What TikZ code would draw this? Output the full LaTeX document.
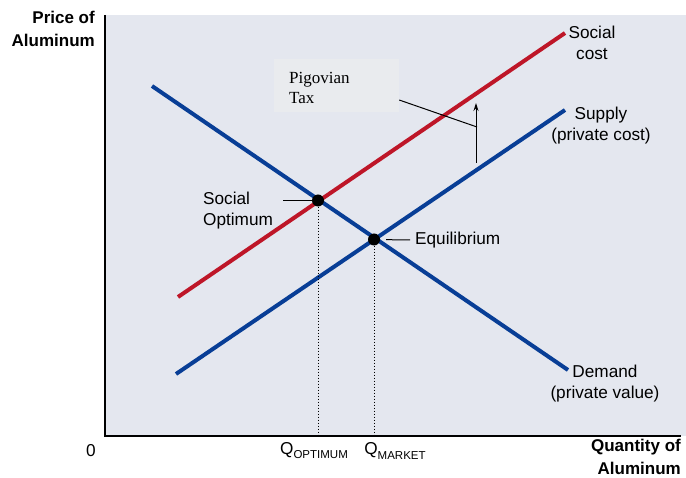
\documentclass[tikz,border=0pt]{standalone}
\usepackage{fontspec}
\setmainfont{Liberation Sans}
\newfontfamily\taxfont{Liberation Serif}
\usetikzlibrary{arrows.meta,positioning}

\definecolor{panelgrey}{RGB}{228,231,239}
\definecolor{boxgrey}{RGB}{233,235,238}
\definecolor{costred}{RGB}{190,22,40}
\definecolor{curveblue}{RGB}{8,62,150}

\newcommand{\qsub}[1]{Q\raisebox{-0.45ex}{\fontsize{11.5}{12}\selectfont #1}}

\begin{document}
\begin{tikzpicture}[
    x=1pt, y=-1pt,
    >={Stealth[length=8pt,width=5pt]},
    lbl/.style={
        font=\fontsize{17.2}{21}\selectfont,
        inner sep=0pt,
        align=center
    },
    axislbl/.style={
        font=\fontsize{17}{22.5}\selectfont\bfseries,
        inner sep=0pt,
        align=right
    },
    curve/.style={
        line width=4pt,
        draw=#1
    },
    dot/.style={
        circle,
        fill=black,
        minimum size=12pt,
        inner sep=0pt
    },
    leader/.style={
        line width=1pt
    }
]
\useasboundingbox (0,0) rectangle (686,478);

% Panel and axes
\fill[panelgrey] (106,15) rectangle (686,436);
\coordinate (origin) at (105,436);
\coordinate (ytop) at (105,15);
\coordinate (xend) at (681,436);
\draw[line width=1.4pt] (ytop) -- (origin) -- (xend);

% Curves
\coordinate (sc1) at (178,297);
\coordinate (sc2) at (565,33);
\coordinate (sup1) at (176,374);
\coordinate (sup2) at (565,110);
\coordinate (dem1) at (152,86);
\coordinate (dem2) at (568,370);
\draw[curve=costred] (sc1) -- (sc2);
\draw[curve=curveblue] (sup1) -- (sup2);
\draw[curve=curveblue] (dem1) -- (dem2);

% Points
\node[dot] (opt) at (318,200.5) {};
\node[dot] (eq) at (374,239.5) {};
\draw[dotted,line width=1pt] (opt) -- (opt |- origin);
\draw[dotted,line width=1pt] (eq) -- (eq |- origin);

% Curve labels
\node[lbl] (sclabel) at (592,43) {Social\\cost};
\node[lbl] (suplabel) at (601,126) {Supply\\(private cost)};
\node[lbl] (demlabel) at (605,384) {Demand\\(private value)};
\node[lbl,align=left,anchor=west] (optlabel) at (203,211) {Social\\Optimum};
\node[lbl,anchor=west] (eqlabel) at (415,240) {Equilibrium};
\coordinate (optlead) at (283,201);
\draw[leader] (optlead) -- (optlead -| opt.west);
\draw[leader,shorten <=6pt] (eq) -- (eqlabel.west -| 410,0);

% Pigovian tax
\node[fill=boxgrey,minimum width=125pt,minimum height=53pt,inner sep=0pt] (taxbox) at (336.5,85.5) {};
\node[font=\fontsize{17}{20}\taxfont,align=left,anchor=west,inner sep=0pt] (taxlabel) at (289,88) {Pigovian\\Tax};
\coordinate (taxlead) at (477,127);
\draw[leader] (taxbox.east |- 0,100) -- (taxlead);
\coordinate (taxlo) at (476,163);
\coordinate (taxhi) at (476,103);
\draw[->,leader] (taxlo) -- (taxhi);

% Axis labels
\node[axislbl,anchor=north east] (ylabel) at (95,11) {Price of\\Aluminum};
\node[axislbl,anchor=north east] (xlabel) at (681,439) {Quantity of\\Aluminum};
\node[lbl] (zero) at (91,451) {0};
\node[lbl] (qopt) at (314,451) {\qsub{OPTIMUM}};
\node[lbl] (qmkt) at (395,451) {\qsub{MARKET}};

\end{tikzpicture}
\end{document}
